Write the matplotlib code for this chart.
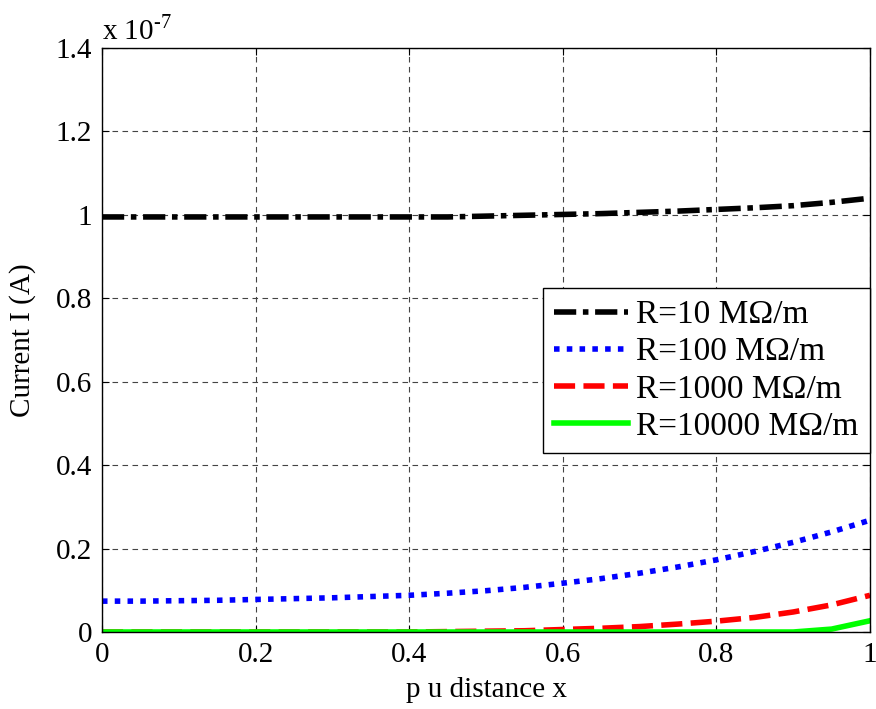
import matplotlib
matplotlib.use("Agg")
import matplotlib.pyplot as plt

plt.rcParams['font.family'] = ['Liberation Serif', 'DejaVu Serif']
plt.rcParams['mathtext.fontset'] = 'custom'
plt.rcParams['mathtext.rm'] = 'Liberation Serif'

x = [0.0, 0.05, 0.1, 0.15, 0.2, 0.25, 0.3, 0.35, 0.4, 0.45, 0.5,
     0.55, 0.6, 0.65, 0.7, 0.75, 0.8, 0.85, 0.9, 0.95, 1.0]
i_r10 = [0.995, 0.995, 0.995, 0.995, 0.995, 0.995, 0.995, 0.995, 0.995, 0.995, 0.997,
         0.999, 1.001, 1.003, 1.006, 1.009, 1.013, 1.017, 1.022, 1.030, 1.040]
i_r100 = [0.074, 0.074, 0.075, 0.076, 0.078, 0.080, 0.082, 0.085, 0.088, 0.093, 0.099,
          0.107, 0.117, 0.128, 0.141, 0.156, 0.173, 0.193, 0.215, 0.240, 0.268]
i_r1000 = [0.0, 0.0, 0.0, 0.0, 0.0, 0.0, 0.0, 0.0, 0.0, 0.001, 0.002,
           0.003, 0.006, 0.009, 0.013, 0.019, 0.026, 0.035, 0.048, 0.065, 0.088]
i_r10000 = [0.0, 0.0, 0.0, 0.0, 0.0, 0.0, 0.0, 0.0, 0.0, 0.0, 0.0,
            0.0, 0.0, 0.0, 0.0, 0.0, 0.0, 0.0, 0.0, 0.007, 0.027]
labels = ['R=10 M\u03a9/m', 'R=100 M\u03a9/m', 'R=1000 M\u03a9/m', 'R=10000 M\u03a9/m']
xticks = [0, 0.2, 0.4, 0.6, 0.8, 1.0]
xticklabels = ['0', '0.2', '0.4', '0.6', '0.8', '1']
yticks = [0, 0.2, 0.4, 0.6, 0.8, 1.0, 1.2, 1.4]
yticklabels = ['0', '0.2', '0.4', '0.6', '0.8', '1', '1.2', '1.4']

fs = 21
fig = plt.figure(figsize=(8.76, 7.09), dpi=100)
ax = fig.add_axes([0.1164, 0.1086, 0.8768, 0.8237])

lw = 4.0
ax.plot(x, i_r10, color='black', lw=lw, dashes=(4, 1.2, 1, 1.2), label=labels[0])
ax.plot(x, i_r100, color='#0000ff', lw=lw, dashes=(1, 1.3), label=labels[1])
ax.plot(x, i_r1000, color='#ff0000', lw=lw, dashes=(3.8, 1.5), label=labels[2])
ax.plot(x, i_r10000, color='#00ff00', lw=lw, label=labels[3])

ax.set_xlim(0, 1)
ax.set_ylim(0, 1.4)
ax.set_xticks(xticks)
ax.set_xticklabels(xticklabels)
ax.set_yticks(yticks)
ax.set_yticklabels(yticklabels)
ax.tick_params(direction='in', top=True, right=True, labelsize=fs, length=5, width=0.8, pad=7)
ax.grid(True, color='#444444', linestyle=(0, (5, 4)), linewidth=0.8)
for s in ax.spines.values():
    s.set_linewidth(1.0)

ax.set_xlabel('p u distance x', fontsize=fs, labelpad=7)
ax.set_ylabel('Current I (A)', fontsize=fs, labelpad=14)
ax.text(0.0, 1.005, 'x 10$^{\\text{-7}}$', transform=ax.transAxes, fontsize=fs, ha='left', va='bottom')

leg = ax.legend(loc='upper right', bbox_to_anchor=(1.0, 0.589), borderaxespad=0,
                prop={'size': 24}, handlelength=2.2, fancybox=False, framealpha=1,
                edgecolor='black', borderpad=0.35, labelspacing=0.2, handletextpad=0.25)
leg.get_frame().set_linewidth(1.0)

fig.savefig('out.png', dpi=100)
